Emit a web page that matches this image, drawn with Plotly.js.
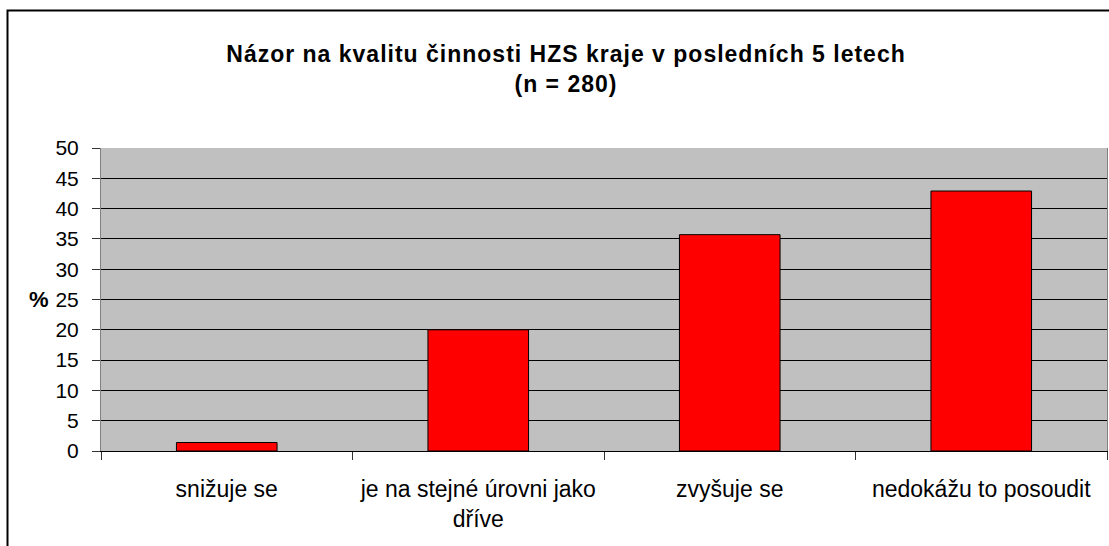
<!DOCTYPE html>
<html>
<head>
<meta charset="utf-8">
<script src="https://cdn.plot.ly/plotly-3.0.1.min.js"></script>
<style>
html,body{margin:0;padding:0;background:#ffffff;}
#chart{width:1109px;height:546px;}
.gtitle{letter-spacing:1px;}
</style>
</head>
<body>
<div id="chart"></div>
<script>
// ---- data ----
const categories = ['snižuje se', 'je na stejné úrovni jako<br>dříve', 'zvyšuje se', 'nedokážu to posoudit'];
const percentValues = [1.4, 20.0, 35.7, 42.9];
const yTickValues = [0, 5, 10, 15, 20, 25, 30, 35, 40, 45, 50];
const titleText = 'Názor na kvalitu činnosti HZS kraje v posledních 5 letech<br>(n = 280)';
const yAxisLabel = '%';

// ---- layout geometry ----
const W = 1109, H = 546;
const M = {l: 101, r: 2, t: 148, b: 95};
const PW = W - M.l - M.r, PH = H - M.t - M.b;
const px2x = px => (px - M.l) / PW;
const px2y = py => (H - M.b - py) / PH;

const font = '"Liberation Sans", Arial, sans-serif';

const trace = {
  type: 'bar',
  x: categories,
  y: percentValues,
  marker: {color: '#FF0000', line: {color: '#000000', width: 1}},
  hoverinfo: 'x+y'
};

const frameLeft = px2x(7.5), frameTop = px2y(10.5);
const frameRight = px2x(W + 20), frameBottom = px2y(H + 20);

const layout = {
  width: W, height: H,
  margin: M,
  paper_bgcolor: '#ffffff',
  plot_bgcolor: '#C0C0C0',
  showlegend: false,
  bargap: 0.6,
  title: {
    text: titleText,
    font: {family: font, size: 23, color: '#000000', weight: 'bold'},
    xref: 'container', x: 566 / W, xanchor: 'center',
    yref: 'container', y: 1 - 62 / H, yanchor: 'middle'
  },
  xaxis: {
    type: 'category',
    tickson: 'boundaries',
    ticks: 'outside', ticklen: 8, tickwidth: 1, tickcolor: '#333333',
    showline: true, linecolor: '#000000', linewidth: 1,
    showgrid: false, zeroline: false,
    ticklabelstandoff: 17,
    tickfont: {family: font, size: 23, color: '#000000'},
    fixedrange: true
  },
  yaxis: {
    range: [0, 50],
    tickvals: yTickValues,
    ticktext: yTickValues.map(String),
    ticks: 'outside', ticklen: 8, tickwidth: 1, tickcolor: '#333333',
    showline: true, linecolor: '#808080', linewidth: 1, mirror: true,
    showgrid: true, gridcolor: '#000000', gridwidth: 1,
    zeroline: false,
    ticklabelstandoff: 9,
    tickfont: {family: font, size: 21, color: '#000000'},
    fixedrange: true
  },
  annotations: [{
    text: yAxisLabel,
    xref: 'paper', x: px2x(38.5), xanchor: 'center',
    yref: 'y', y: 25, yanchor: 'middle',
    showarrow: false,
    font: {family: font, size: 22, color: '#000000', weight: 'bold'}
  }],
  shapes: [{
    type: 'path',
    xref: 'paper', yref: 'paper',
    path: 'M ' + frameLeft + ' ' + frameBottom + ' L ' + frameLeft + ' ' + frameTop + ' L ' + frameRight + ' ' + frameTop,
    line: {color: '#000000', width: 2},
    layer: 'above'
  }]
};

Plotly.newPlot('chart', [trace], layout, {displayModeBar: false, staticPlot: true});
</script>
</body>
</html>
